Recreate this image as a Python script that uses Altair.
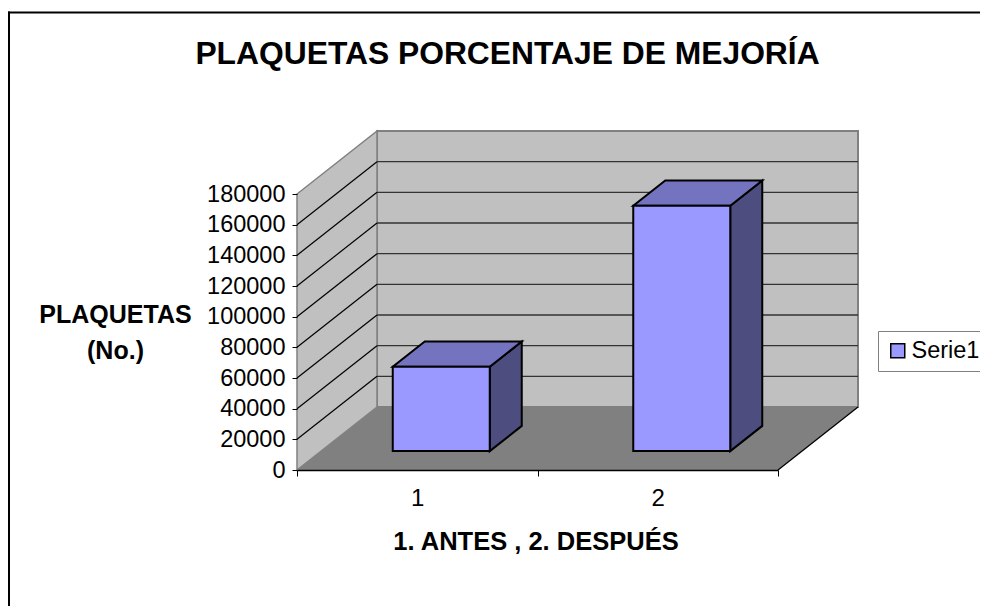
import altair as alt
import pandas as pd

CATEGORIES = [1, 2]
VALUES = [55000, 160000]
SERIES = "Serie1"
Y_TICKS = [0, 20000, 40000, 60000, 80000, 100000, 120000, 140000, 160000, 180000]
X_MARKS = [0.5, 1, 1.5, 2, 2.5]
TITLE = "PLAQUETAS PORCENTAJE DE MEJORÍA"
Y_TITLE = ["PLAQUETAS", "(No.)"]
X_TITLE = "1. ANTES , 2. DESPUÉS"

# plot box = front plane of the 3-D box, page pixels
W, H = 481, 276
LEFT, TOP = 289, 186
CW, CH = 972, 598
XMIN, XMAX, YMAX = 0.5, 2.5, 180000
# oblique projection: how far depth 1 moves a point, in data units
DX = 80 / W * (XMAX - XMIN)
DY = 63 / H * YMAX
BAR_W = 97 / W * (XMAX - XMIN)
D0, D1 = 0.30, 0.70
FONT = "Liberation Sans"


def px(x, d):
    return x + d * DX


def py(v, d):
    return v + d * DY


xs = alt.Scale(domain=[XMIN, XMAX], nice=False, zero=False)
ys = alt.Scale(domain=[0, YMAX], nice=False, zero=False)
X = lambda f: alt.X(f, type="quantitative", scale=xs, axis=None)
Y = lambda f: alt.Y(f, type="quantitative", scale=ys, axis=None)

# back wall
back = alt.Chart(pd.DataFrame({"x": [px(XMIN, 1)], "x2": [px(XMAX, 1)], "y": [py(0, 1)], "y2": [py(YMAX, 1)]})).mark_rect(
    fill="#C0C0C0", stroke="#808080", strokeWidth=2, clip=False
).encode(x=X("x"), x2="x2", y=Y("y"), y2="y2")

# left wall
left = alt.Chart(pd.DataFrame({
    "x": [px(XMIN, 0), px(XMIN, 1)], "y": [py(0, 0), py(0, 1)], "y2": [py(YMAX, 0), py(YMAX, 1)]
})).mark_area(fill="#C0C0C0", stroke="#808080", strokeWidth=1.5, clip=False).encode(x=X("x"), y=Y("y"), y2="y2")

# floor
floor = alt.Chart(pd.DataFrame({
    "y": [py(0, 0), py(0, 1)], "x": [px(XMIN, 0), px(XMIN, 1)], "x2": [px(XMAX, 0), px(XMAX, 1)]
})).mark_area(orient="horizontal", fill="#808080", clip=False).encode(y=Y("y"), x=X("x"), x2="x2")

# floor right edge, drawn black
floor_edge = alt.Chart(pd.DataFrame({
    "x": [px(XMAX, 0)], "x2": [px(XMAX, 1)], "y": [py(0, 0)], "y2": [py(0, 1)]
})).mark_rule(color="#000000", strokeWidth=1.3, clip=False).encode(x=X("x"), x2="x2", y=Y("y"), y2="y2")

grid_vals = [v for v in Y_TICKS if 0 < v < YMAX]
grid_back = alt.Chart(pd.DataFrame({
    "x": [px(XMIN, 1)] * len(grid_vals), "x2": [px(XMAX, 1)] * len(grid_vals), "y": [py(v, 1) for v in grid_vals]
})).mark_rule(color="#333333", strokeWidth=1.3, clip=False).encode(x=X("x"), x2="x2", y=Y("y"))
grid_left = alt.Chart(pd.DataFrame({
    "x": [px(XMIN, 0)] * len(grid_vals), "x2": [px(XMIN, 1)] * len(grid_vals),
    "y": [py(v, 0) for v in grid_vals], "y2": [py(v, 1) for v in grid_vals]
})).mark_rule(color="#000000", strokeWidth=1.2, clip=False).encode(x=X("x"), x2="x2", y=Y("y"), y2="y2")

# bars
layers = []
for c, v in zip(CATEGORIES, VALUES):
    xl, xr = c - BAR_W / 2, c + BAR_W / 2
    side = alt.Chart(pd.DataFrame({
        "x": [px(xr, D0), px(xr, D1)], "y": [py(0, D0), py(0, D1)], "y2": [py(v, D0), py(v, D1)]
    })).mark_area(fill="#4D4D80", stroke="#000000", strokeWidth=2, clip=False).encode(x=X("x"), y=Y("y"), y2="y2")
    top = alt.Chart(pd.DataFrame({
        "y": [py(v, D0), py(v, D1)], "x": [px(xl, D0), px(xl, D1)], "x2": [px(xr, D0), px(xr, D1)]
    })).mark_area(orient="horizontal", fill="#7373BF", stroke="#000000", strokeWidth=2, clip=False).encode(y=Y("y"), x=X("x"), x2="x2")
    layers += [side, top]

front = alt.Chart(pd.DataFrame({
    "x": [px(c - BAR_W / 2, D0) for c in CATEGORIES],
    "x2": [px(c + BAR_W / 2, D0) for c in CATEGORIES],
    "y": [py(0, D0)] * 2,
    "y2": [py(v, D0) for v in VALUES],
    "serie": [SERIES] * 2,
})).mark_rect(stroke="#000000", strokeWidth=2, clip=False).encode(
    x=X("x"), x2="x2", y=Y("y"), y2="y2",
    color=alt.Color("serie:N", scale=alt.Scale(range=["#9999FF"]), legend=alt.Legend(
        orient="none", legendX=878 - 8 - LEFT, legendY=331 - 8 - TOP, title=None,
        symbolType="square", symbolSize=196, symbolStrokeColor="#000000", symbolStrokeWidth=1.5,
        labelFont=FONT, labelFontSize=23.5, labelColor="#000000", labelOffset=2,
        fillColor="#FFFFFF", strokeColor="#808080", padding=8, symbolOpacity=1,
    )),
)

# axes layer carries the real axes
axes = alt.Chart(pd.DataFrame({"x": [XMIN], "y": [0]})).mark_point(opacity=0, clip=False).encode(
    x=alt.X("x:Q", scale=xs, axis=alt.Axis(
        values=X_MARKS, grid=False, title=X_TITLE, titleFont=FONT, titleFontSize=25.5, titleFontWeight="bold",
        titleColor="#000000", titlePadding=19, titleX=535.5 - 8 - LEFT, zindex=1,
        labelExpr="datum.value % 1 == 0 ? format(datum.value, 'd') : ''", labelFont=FONT, labelFontSize=24,
        labelColor="#000000", labelPadding=10, labelFlush=False, labelOverlap=False,
        domainColor="#000000", domainWidth=1.5, tickColor="#000000", tickSize=6, tickWidth=1,
        tickOpacity=alt.expr("datum.value % 1 == 0 ? 0 : 1"),
    )),
    y=alt.Y("y:Q", scale=ys, axis=alt.Axis(
        values=Y_TICKS, grid=False, title=Y_TITLE, titleFont=FONT, titleFontSize=25, titleFontWeight="bold",
        titleColor="#000000", titleAngle=0, titleAlign="center", titleBaseline="middle", titleLineHeight=36,
        titleX=115 - 8 - LEFT, titleY=120, zindex=1,
        format="d", labelFont=FONT, labelFontSize=23.5, labelColor="#000000", labelPadding=7, labelOverlap=False,
        domain=False, tickColor="#000000", tickSize=5, tickWidth=1,
    )),
)

# outer frame
frame_top = alt.Chart(pd.DataFrame({"a": [0]})).mark_rule(color="#000000", strokeWidth=2, clip=False).encode(
    x=alt.value(-LEFT), x2=alt.value(CW - LEFT), y=alt.value(4.5 - TOP))
frame_left = alt.Chart(pd.DataFrame({"a": [0]})).mark_rule(color="#000000", strokeWidth=2, clip=False).encode(
    x=alt.value(1 - LEFT), y=alt.value(3.5 - TOP), y2=alt.value(CH - TOP))

chart = alt.layer(
    frame_top, frame_left, back, left, floor, floor_edge, grid_back, grid_left, *layers, front, axes
).resolve_scale(color="independent").resolve_axis(x="independent", y="independent").properties(
    width=W, height=H,
    padding={"left": LEFT, "top": TOP, "right": CW - LEFT - W, "bottom": CH - TOP - H},
    autosize=alt.AutoSizeParams(type="none"),
    title=alt.TitleParams(TITLE, font=FONT, fontSize=31.8, fontWeight="bold", color="#000000",
                          anchor="middle", frame="group", offset=0, dy=60, dx=507.5 - 8 - LEFT - W / 2),
    background="#FFFFFF",
).configure_view(stroke=None)

chart.save("out.html", embed_options={"renderer": "svg", "actions": False})
